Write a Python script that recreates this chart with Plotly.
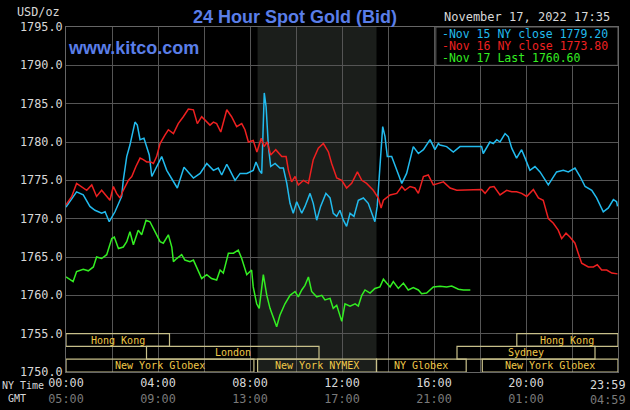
import plotly.graph_objects as go

# hours after midnight NY time, price USD/oz
nov15_hours = [0.00, 0.46, 0.75, 1.04, 1.26, 1.55, 1.70, 1.88, 2.13, 2.42, 2.49, 2.64, 2.78, 3.00, 3.10,
               3.22, 3.39, 3.51, 3.62, 3.73, 3.94, 4.16, 4.38, 4.67, 4.84, 5.13, 5.32, 5.54, 5.83, 6.12,
               6.41, 6.62, 6.77, 6.99, 7.13, 7.35, 7.57, 7.86, 8.14, 8.26, 8.41, 8.51, 8.62, 8.70, 8.80,
               8.90, 9.09, 9.30, 9.45, 9.60, 9.74, 9.88, 10.03, 10.25, 10.39, 10.61, 10.75, 10.90, 11.07,
               11.30, 11.48, 11.62, 11.77, 11.91, 12.06, 12.20, 12.35, 12.52, 12.71, 12.93, 13.14, 13.29,
               13.43, 13.53, 13.65, 13.77, 13.87, 13.97, 14.16, 14.38, 14.60, 14.81, 15.10, 15.32, 15.54,
               15.83, 16.04, 16.19, 16.26, 16.55, 16.84, 17.13, 18.07, 18.14, 18.43, 18.58, 18.73, 18.87,
               19.09, 19.23, 19.38, 19.59, 19.81, 19.96, 20.17, 20.39, 20.61, 20.97, 21.33, 21.62, 21.84,
               22.13, 22.35, 22.57, 22.86, 23.07, 23.36, 23.58, 23.80, 23.94, 23.98]
nov15_price = [1771.5, 1773.5, 1773.1, 1771.6, 1771.1, 1770.7, 1770.9, 1769.6, 1770.9, 1772.9, 1775.0,
               1778.1, 1779.6, 1782.6, 1782.2, 1780.3, 1780.5, 1779.4, 1778.3, 1775.5, 1776.8, 1778.1,
               1776.3, 1774.8, 1774.0, 1776.7, 1776.1, 1775.3, 1775.9, 1777.2, 1776.3, 1776.6, 1775.7,
               1777.1, 1776.3, 1775.0, 1775.9, 1775.9, 1776.3, 1777.4, 1776.3, 1775.9, 1786.4, 1784.6,
               1779.4, 1776.8, 1777.2, 1776.6, 1776.6, 1774.6, 1772.0, 1770.7, 1772.2, 1770.7, 1771.6,
               1773.3, 1772.0, 1769.8, 1771.6, 1773.3, 1772.7, 1770.7, 1770.3, 1771.1, 1769.8, 1769.0,
               1770.7, 1770.3, 1772.4, 1772.7, 1772.0, 1770.7, 1769.6, 1771.6, 1776.8, 1782.0, 1780.7,
               1778.1, 1778.1, 1776.3, 1774.6, 1775.9, 1779.4, 1778.5, 1779.0, 1780.3, 1779.0, 1779.8,
               1779.6, 1779.4, 1778.7, 1779.4, 1779.4, 1778.5, 1780.0, 1779.8, 1780.3, 1780.0, 1781.1,
               1780.7, 1779.2, 1777.9, 1779.0, 1777.9, 1776.3, 1776.8, 1776.1, 1774.4, 1776.1, 1776.3,
               1776.1, 1776.6, 1775.5, 1774.2, 1773.7, 1772.7, 1770.9, 1771.4, 1772.5, 1772.2, 1771.6]

nov16_hours = [0.00, 0.25, 0.46, 0.68, 0.90, 1.12, 1.33, 1.55, 1.77, 1.91, 2.06, 2.20, 2.35, 2.49, 2.71,
               2.86, 3.04, 3.22, 3.36, 3.51, 3.68, 3.80, 3.94, 4.09, 4.30, 4.45, 4.67, 4.88, 5.10, 5.32,
               5.54, 5.71, 5.90, 6.12, 6.26, 6.41, 6.55, 6.73, 6.84, 6.99, 7.20, 7.42, 7.64, 7.78, 7.93,
               8.14, 8.30, 8.49, 8.61, 8.75, 8.90, 9.12, 9.38, 9.57, 9.67, 9.81, 9.96, 10.10, 10.32, 10.54,
               10.75, 10.97, 11.19, 11.41, 11.55, 11.77, 11.99, 12.20, 12.42, 12.67, 12.86, 13.07, 13.36,
               13.58, 13.70, 13.80, 14.09, 14.38, 14.60, 14.74, 14.96, 15.17, 15.32, 15.54, 15.75, 15.97,
               16.19, 16.41, 16.70, 16.99, 18.07, 18.22, 18.43, 18.61, 18.87, 19.16, 19.38, 19.59, 19.81,
               20.03, 20.32, 20.54, 20.75, 20.97, 21.19, 21.40, 21.55, 21.74, 21.91, 22.13, 22.27, 22.42,
               22.71, 22.93, 23.10, 23.29, 23.51, 23.73, 23.98]
nov16_price = [1771.8, 1772.9, 1774.6, 1774.2, 1773.7, 1774.4, 1772.9, 1773.7, 1772.9, 1772.4, 1774.2,
               1773.3, 1772.7, 1773.7, 1775.0, 1775.5, 1776.8, 1777.9, 1777.7, 1777.4, 1777.4, 1777.2,
               1778.1, 1779.8, 1780.9, 1781.6, 1781.1, 1782.4, 1783.3, 1784.3, 1784.2, 1782.4, 1783.3,
               1782.6, 1782.2, 1782.6, 1782.4, 1781.3, 1782.6, 1784.2, 1783.3, 1782.0, 1782.4, 1781.6,
               1780.0, 1780.2, 1778.7, 1780.5, 1779.4, 1780.0, 1778.3, 1779.0, 1778.1, 1778.1, 1776.3,
               1774.8, 1775.5, 1774.4, 1775.0, 1774.6, 1777.7, 1779.2, 1779.8, 1778.7, 1777.2, 1775.3,
               1775.0, 1774.0, 1774.6, 1776.1, 1775.0, 1774.6, 1773.7, 1772.7, 1771.4, 1772.4, 1773.1,
               1773.3, 1774.2, 1773.7, 1774.2, 1774.0, 1773.3, 1775.5, 1775.7, 1774.4, 1774.6, 1774.8,
               1774.0, 1773.7, 1773.8, 1773.3, 1774.1, 1774.2, 1773.1, 1773.7, 1773.5, 1773.5, 1773.3,
               1772.9, 1773.8, 1772.7, 1772.4, 1770.0, 1769.4, 1768.5, 1767.4, 1768.1, 1767.6, 1766.8,
               1765.5, 1764.2, 1763.7, 1763.7, 1764.0, 1763.3, 1763.3, 1762.9, 1762.8]

nov17_hours = [0.00, 0.17, 0.31, 0.46, 0.75, 0.97, 1.19, 1.33, 1.55, 1.77, 1.99, 2.10, 2.28, 2.49, 2.64,
               2.78, 2.93, 3.14, 3.29, 3.48, 3.65, 3.87, 4.09, 4.23, 4.45, 4.60, 4.67, 4.81, 5.03, 5.17,
               5.39, 5.54, 5.68, 5.90, 6.12, 6.33, 6.55, 6.70, 6.84, 7.06, 7.28, 7.49, 7.64, 7.86, 8.07,
               8.14, 8.29, 8.40, 8.58, 8.73, 8.87, 9.01, 9.16, 9.30, 9.52, 9.74, 9.96, 10.10, 10.25, 10.39,
               10.54, 10.68, 10.90, 11.12, 11.26, 11.48, 11.62, 11.77, 11.99, 12.13, 12.35, 12.57, 12.71,
               12.86, 13.00, 13.22, 13.43, 13.65, 13.80, 13.94, 14.09, 14.23, 14.45, 14.67, 14.88, 15.10,
               15.32, 15.46, 15.68, 15.97, 16.26, 16.55, 16.77, 17.06, 17.28, 17.58]
nov17_price = [1762.4, 1762.1, 1761.8, 1763.1, 1763.4, 1763.2, 1763.7, 1765.0, 1764.8, 1765.3, 1767.4,
               1767.6, 1766.1, 1766.3, 1767.0, 1768.3, 1766.6, 1768.5, 1767.9, 1769.8, 1769.6, 1768.3,
               1767.0, 1766.8, 1767.9, 1766.3, 1764.4, 1764.8, 1765.3, 1764.6, 1764.4, 1764.6, 1763.7,
               1762.2, 1762.7, 1762.2, 1762.0, 1763.3, 1762.9, 1765.5, 1765.5, 1765.9, 1764.8, 1762.7,
               1763.3, 1761.1, 1758.9, 1758.3, 1762.7, 1760.0, 1758.3, 1757.2, 1755.9, 1757.4, 1758.9,
               1760.0, 1760.5, 1759.8, 1760.7, 1761.3, 1762.4, 1760.5, 1759.8, 1760.0, 1759.4, 1759.6,
               1758.3, 1758.7, 1756.6, 1758.9, 1758.6, 1758.9, 1758.6, 1760.0, 1760.7, 1760.3, 1760.9,
               1761.1, 1762.1, 1761.6, 1761.1, 1761.8, 1760.9, 1761.6, 1760.7, 1761.0, 1760.7, 1760.2,
               1760.3, 1761.1, 1761.2, 1761.1, 1761.2, 1760.8, 1760.7, 1760.7]

legend_text = ["Nov 15 NY close 1779.20", "Nov 16 NY close 1773.80", "Nov 17 Last 1760.60"]

# trading sessions: name, row (0 = top), start hour, end hour
session_names = ["Hong Kong", "Hong Kong", "London", "Sydney",
                 "New York Globex", "New York NYMEX", "NY Globex", "New York Globex"]
session_rows = [0, 0, 1, 1, 2, 2, 2, 2]
session_start = [0.0, 19.6, 3.5, 17.0, 0.0, 8.33, 13.5, 18.1]
session_end = [4.5, 24.0, 11.0, 23.0, 8.17, 13.5, 17.4, 24.0]

tick_hours = [0, 2, 4, 6, 8, 10, 12, 14, 16, 18, 20, 22]
ny_labels = ["00:00", "", "04:00", "", "08:00", "", "12:00", "", "16:00", "", "20:00", ""]
gmt_labels = ["05:00", "", "09:00", "", "13:00", "", "17:00", "", "21:00", "", "01:00", ""]
# end-of-day label sits a little left of the right border in the original
end_label_hour = 23.55
end_ny, end_gmt = "23:59", "04:59"

MONO = "DejaVu Sans Mono"
FS = 11.8
colors = ["#22bbee", "#ee2020", "#33ee22"]

fig = go.Figure()

for hrs, px, col in [(nov15_hours, nov15_price, colors[0]),
                     (nov16_hours, nov16_price, colors[1]),
                     (nov17_hours, nov17_price, colors[2])]:
    fig.add_trace(go.Scatter(x=hrs, y=px, mode="lines", line=dict(color=col, width=1.5),
                             showlegend=False, hoverinfo="skip"))

# NYMEX pit session shading
fig.add_shape(type="rect", xref="x", yref="paper", x0=8.33, x1=13.5, y0=0, y1=1,
              fillcolor="#1b1e1b", line_width=0, layer="below")

# session bars
row_h = 5 / 3
for name, r, s, e in zip(session_names, session_rows, session_start, session_end):
    top = 1755 - r * row_h
    fig.add_shape(type="rect", x0=s, x1=e, y0=top - row_h, y1=top,
                  line=dict(color="#c8c08a", width=1.2), fillcolor="rgba(0,0,0,0)")
    fig.add_annotation(x=(s + min(e, 24)) / 2, y=top - row_h / 2, text=name, showarrow=False,
                       font=dict(family=MONO, size=10, color="#f0c848"))

# legend box
fig.add_shape(type="rect", xref="paper", yref="y", x0=0.67, x1=1.0, y0=1790, y1=1795,
              fillcolor="#000000", line=dict(color="#666666", width=1))
for i, (txt, col) in enumerate(zip(legend_text, colors)):
    fig.add_annotation(xref="paper", yref="paper", x=0.677, y=1 - (7 + i * 12) / 345,
                       xanchor="left", yanchor="middle", showarrow=False,
                       text="-" + txt, font=dict(family=MONO, size=11.5, color=col))

ticktext = [a + "<br><span style='color:#7a7a7a'>" + b + "</span>" for a, b in zip(ny_labels, gmt_labels)]

fig.update_layout(
    width=630, height=410,
    margin=dict(l=66, r=12, t=27, b=38),
    paper_bgcolor="#000000", plot_bgcolor="#000000",
    font=dict(family=MONO, color="#d0d0d0", size=FS),
    xaxis=dict(range=[0, 24], tickvals=tick_hours, ticktext=ticktext, showgrid=True, automargin=False,
               gridcolor="#555555", gridwidth=1, zeroline=False, showline=True, linecolor="#666666",
               mirror=True, ticks="", tickfont=dict(family=MONO, size=FS, color="#d8d8d8")),
    yaxis=dict(range=[1750, 1795], dtick=5, tickformat=".1f", showgrid=True, gridcolor="#555555",
               gridwidth=1, zeroline=False, showline=True, linecolor="#666666", mirror=True,
               automargin=False, ticks="", tickfont=dict(family=MONO, size=FS, color="#d8d8d8")),
)

fig.add_annotation(x=end_label_hour, xref="x", yref="paper", y=0, yshift=-4, yanchor="top",
                   text=end_ny + "<br><span style='color:#7a7a7a'>" + end_gmt + "</span>",
                   showarrow=False, font=dict(family=MONO, size=FS, color="#d8d8d8"))
fig.add_annotation(xref="paper", yref="paper", x=-0.008, y=1.0, xanchor="right", yanchor="bottom",
                   yshift=6, text="USD/oz", showarrow=False, font=dict(family=MONO, size=FS, color="#d8d8d8"))
fig.add_annotation(xref="paper", yref="paper", x=0.415, y=1.0, xanchor="center", yanchor="bottom",
                   yshift=-2, text="<b>24 Hour Spot Gold (Bid)</b>", showarrow=False,
                   font=dict(family="Liberation Sans", size=18, color="#5a7ee8"))
fig.add_annotation(xref="paper", yref="paper", x=0.99, y=1.0, xanchor="right", yanchor="bottom",
                   yshift=1, text="November 17, 2022 17:35", showarrow=False,
                   font=dict(family=MONO, size=12, color="#d8d8d8"))
fig.add_annotation(xref="paper", yref="y", x=0.0, y=1792.2, xanchor="left", yanchor="middle",
                   text="<b>www.kitco.com</b>", showarrow=False,
                   font=dict(family="Liberation Sans", size=18, color="#5a7ee8"))
fig.add_annotation(xref="paper", yref="paper", x=-0.037, y=-0.016, xanchor="right", yanchor="top",
                   text="NY Time", showarrow=False, font=dict(family=MONO, size=10, color="#d8d8d8"))
fig.add_annotation(xref="paper", yref="paper", x=-0.068, y=-0.054, xanchor="right", yanchor="top",
                   text="GMT", showarrow=False, font=dict(family=MONO, size=10, color="#d8d8d8"))

fig.write_html("out.html", config={"displayModeBar": False},
               post_script="document.body.style.margin='0px';")
